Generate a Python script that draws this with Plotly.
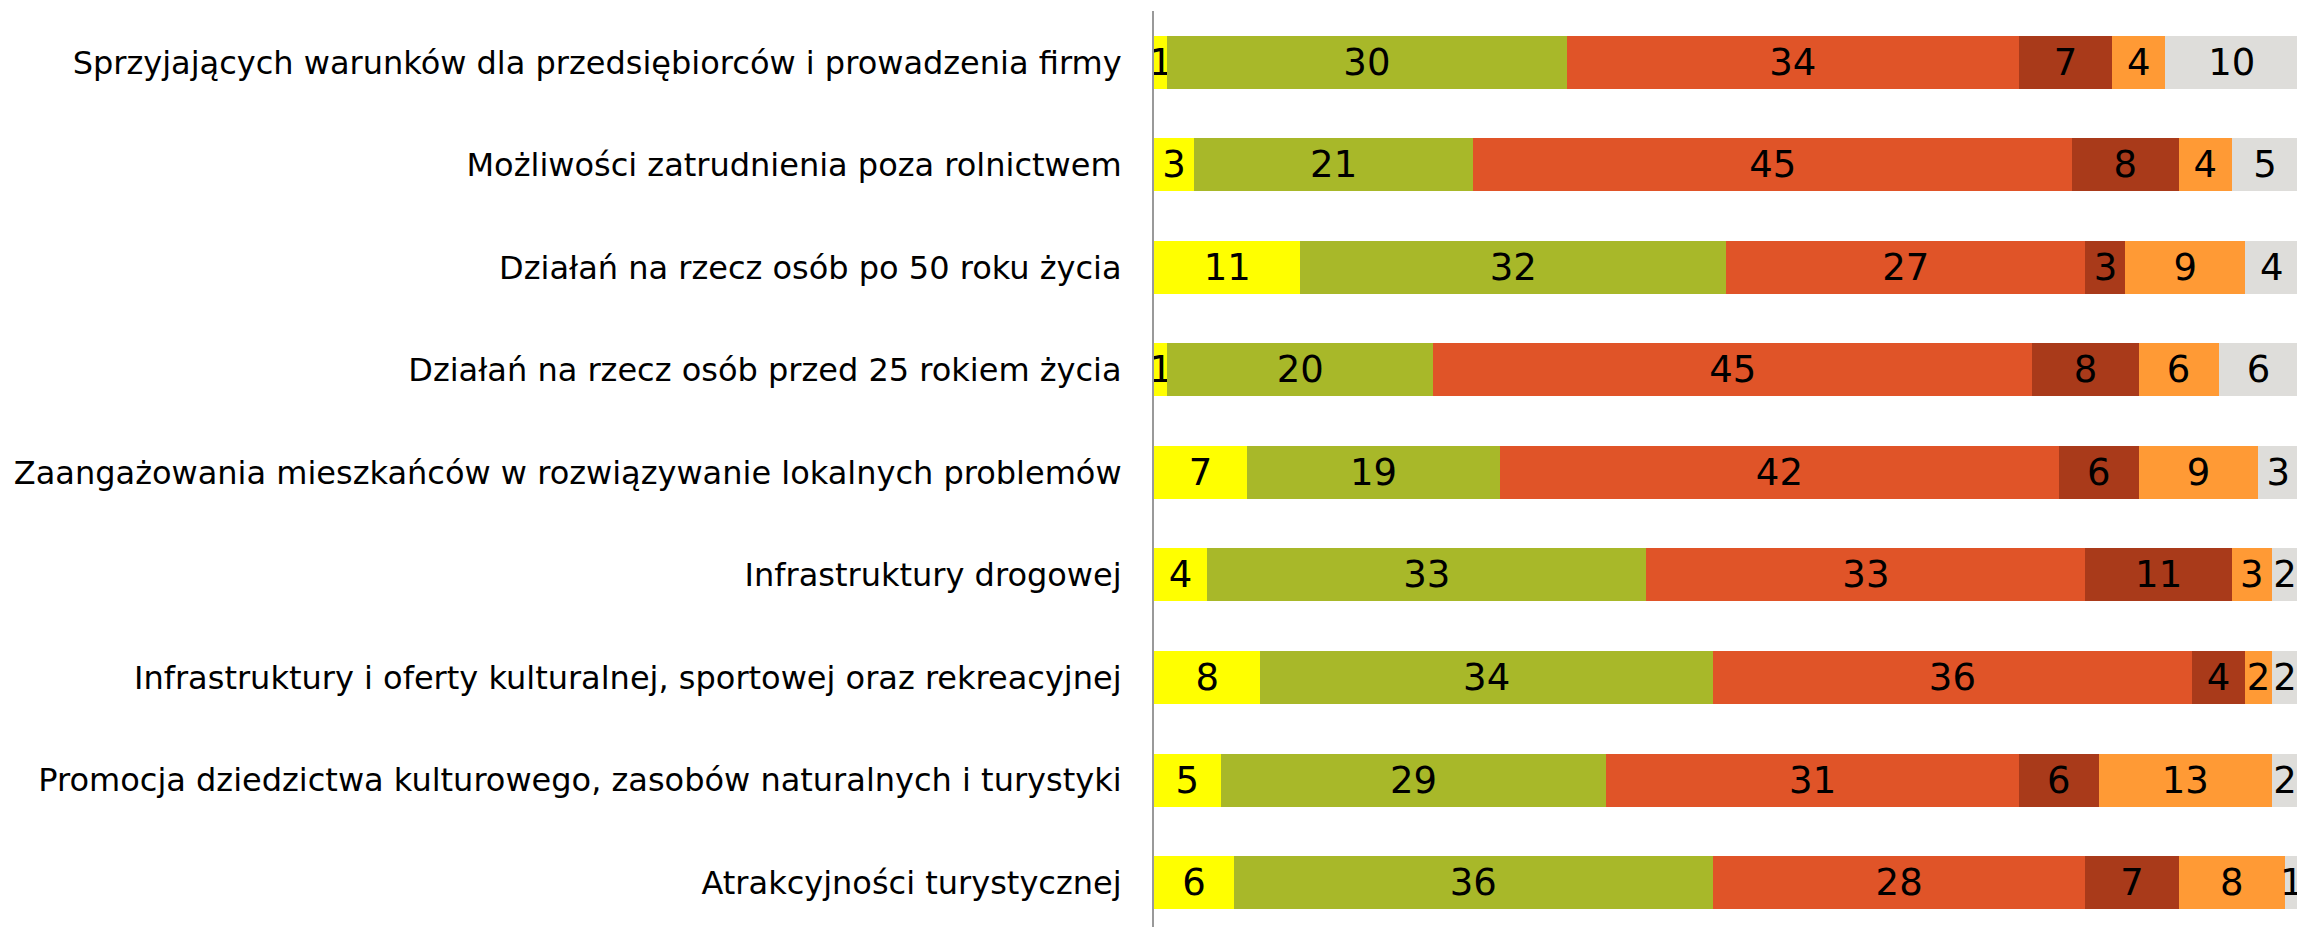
import plotly.graph_objects as go

categories = [
    "Sprzyjających warunków dla przedsiębiorców i prowadzenia firmy",
    "Możliwości zatrudnienia poza rolnictwem",
    "Działań na rzecz osób po 50 roku życia",
    "Działań na rzecz osób przed 25 rokiem życia",
    "Zaangażowania mieszkańców w rozwiązywanie lokalnych problemów",
    "Infrastruktury drogowej",
    "Infrastruktury i oferty kulturalnej, sportowej oraz rekreacyjnej",
    "Promocja dziedzictwa kulturowego, zasobów naturalnych i turystyki",
    "Atrakcyjności turystycznej",
]

s1 = [1, 3, 11, 1, 7, 4, 8, 5, 6]
s2 = [30, 21, 32, 20, 19, 33, 34, 29, 36]
s3 = [34, 45, 27, 45, 42, 33, 36, 31, 28]
s4 = [7, 8, 3, 8, 6, 11, 4, 6, 7]
s5 = [4, 4, 9, 6, 9, 3, 2, 13, 8]
s6 = [10, 5, 4, 6, 3, 2, 2, 2, 1]

series = [s1, s2, s3, s4, s5, s6]
colors = ["#FFFF00", "#A8B829", "#E05428", "#A93A1A", "#FF9A35", "#DEDDDA"]

fig = go.Figure()
for vals, col in zip(series, colors):
    fig.add_trace(go.Bar(
        y=categories, x=vals, orientation="h",
        marker=dict(color=col, line=dict(width=0)),
        text=[str(v) for v in vals],
        textposition="inside", insidetextanchor="middle",
        textangle=0, constraintext="none", cliponaxis=False,
        textfont=dict(family="DejaVu Sans", size=37, color="#000000"),
        width=0.517, showlegend=False, hoverinfo="skip",
    ))

fig.update_layout(
    barmode="stack",
    width=2297, height=919,
    margin=dict(l=1146, r=0, t=3, b=0, autoexpand=False),
    paper_bgcolor="white", plot_bgcolor="white",
    uniformtext=dict(minsize=37, mode="show"),
    font=dict(family="DejaVu Sans", size=32, color="#000000"),
)
fig.update_xaxes(range=[0, 86.5], visible=False, showgrid=False, zeroline=False)
fig.update_yaxes(
    categoryorder="array", categoryarray=categories,
    range=[8.434, -0.502],
    showgrid=False, zeroline=False,
    showline=True, linecolor="#999999", linewidth=2,
    ticks="", ticklabelstandoff=24,
    tickfont=dict(family="DejaVu Sans", size=32, color="#000000"),
)

fig.write_html("out.html")
